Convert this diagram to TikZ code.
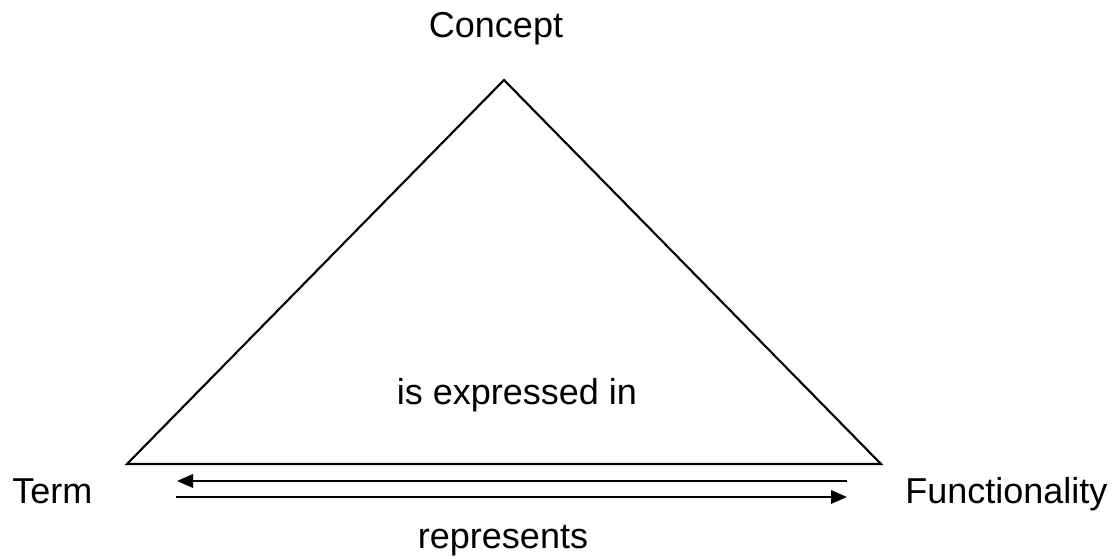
\documentclass[tikz,border=0pt]{standalone}
\usepackage{fontspec}
\setmainfont{Liberation Sans}
\usetikzlibrary{arrows.meta}
\begin{document}
\begin{tikzpicture}[x=0.75pt,y=-0.75pt,
  lbl/.style={font=\fontsize{27}{32}\selectfont, inner sep=0pt},
  side/.style={line width=1.6pt, line join=miter},
  rel/.style={line width=1.6pt, -{Triangle[length=12pt,width=10pt]}}]
\useasboundingbox (0,0) rectangle (1119,558);
\coordinate (apex) at (504,80);
\coordinate (left) at (127,464);
\coordinate (right) at (881,464);
\draw[side] (left) -- (apex) -- (right) -- cycle;
\node[lbl, anchor=base] (concept) at (496,37) {Concept};
\node[lbl, anchor=base west] (term) at (12,503) {Term};
\node[lbl, anchor=base west] (func) at (905,503) {Functionality};
\node[lbl, anchor=base] (expr) at (517,404) {is expressed in};
\node[lbl, anchor=base] (repr) at (503,548) {represents};
% arrows between Term and Functionality
\coordinate (backstart) at (847,481);
\coordinate (backend) at (177,481);
\coordinate (forstart) at (176,497);
\coordinate (forend) at (847,497);
\draw[rel] (backstart) -- (backend);
\draw[rel] (forstart) -- (forend);
\end{tikzpicture}
\end{document}
